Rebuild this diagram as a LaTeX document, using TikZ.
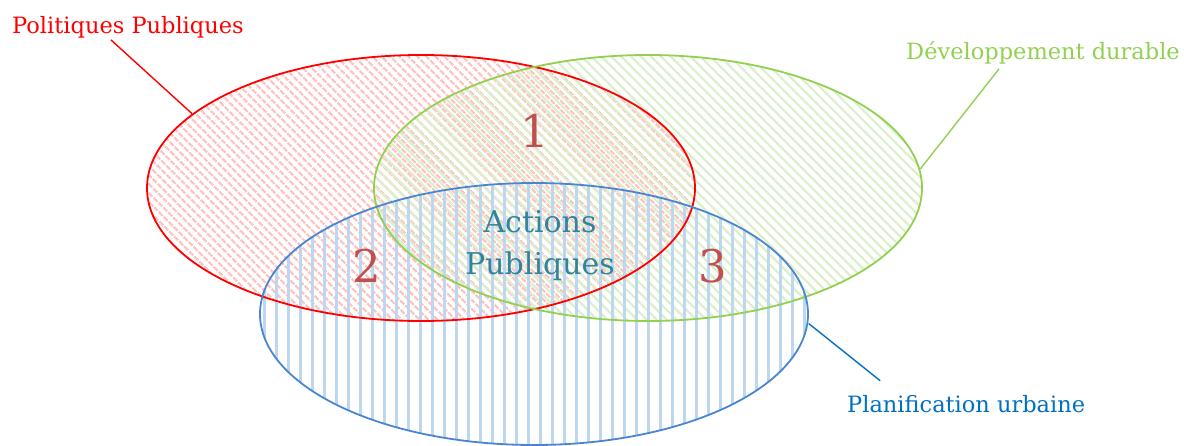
\documentclass[tikz,border=0pt]{standalone}
\usepackage{fontspec}
\setmainfont{DejaVu Serif}
\usetikzlibrary{patterns.meta,shapes.geometric}
\definecolor{pprouge}{HTML}{FF0000}
\definecolor{ppfond}{HTML}{FFC4C4}
\definecolor{ddvert}{HTML}{92D050}
\definecolor{ddfond}{HTML}{DCEFCC}
\definecolor{publeu}{HTML}{4A86D0}
\definecolor{pufond}{HTML}{BDD7EE}
\definecolor{pulabel}{HTML}{0070C0}
\definecolor{chiffrec}{HTML}{C0504D}
\definecolor{actionsc}{HTML}{31849B}
\begin{document}
\begin{tikzpicture}[x=1pt,y=-1pt,
  zone/.style={ellipse,inner sep=0pt,minimum width=548pt,minimum height=266pt},
  etiquette/.style={inner sep=2pt,font=\fontsize{22.5}{27}\selectfont},
  chiffre/.style={inner sep=0pt,anchor=base,text=chiffrec,font=\fontsize{45}{50}\selectfont}]
\useasboundingbox (0,0) rectangle (1184,445);
\node[zone,pattern={Lines[angle=-45,distance=6.5pt,line width=2.4pt]},pattern color=ppfond] (pp) at (421,188) {};
\node[zone,pattern={Lines[angle=-45,distance=7pt,line width=2.2pt]},pattern color=ddfond] (dd) at (648,188) {};
\node[zone,minimum height=262pt,pattern={Lines[angle=90,distance=12pt,line width=3pt]},pattern color=pufond] (pu) at (534,314) {};
\draw[pprouge,line width=1.8pt] (pp.center) ellipse [x radius=274pt,y radius=133pt];
\draw[ddvert,line width=1.8pt] (dd.center) ellipse [x radius=274pt,y radius=133pt];
\draw[publeu,line width=1.8pt] (pu.center) ellipse [x radius=274pt,y radius=131pt];
\node[etiquette,text=pprouge,anchor=base west] (lpp) at (10,33) {Politiques Publiques};
\node[etiquette,text=ddvert,anchor=base east] (ldd) at (1182,59) {Développement durable};
\node[etiquette,text=pulabel,anchor=base west] (lpu) at (845,412) {Planification urbaine};
\draw[pprouge,line width=1.4pt] ([xshift=-17pt]lpp.south) -- (pp.162);
\draw[ddvert,line width=1.4pt] ([xshift=-44pt,yshift=-3pt]ldd.south) -- (dd.4);
\draw[pulabel,line width=1.4pt] ([xshift=-86pt,yshift=12pt]lpu.north) -- (pu.-2);
\node[chiffre] (n1) at (535,147) {1};
\node[chiffre] (n2) at (367,282) {2};
\node[chiffre] (n3) at (713,282) {3};
\node[inner sep=0pt,align=center,text=actionsc,font=\fontsize{30}{42}\selectfont] (ap) at (540,246) {Actions\\Publiques};
\end{tikzpicture}
\end{document}
